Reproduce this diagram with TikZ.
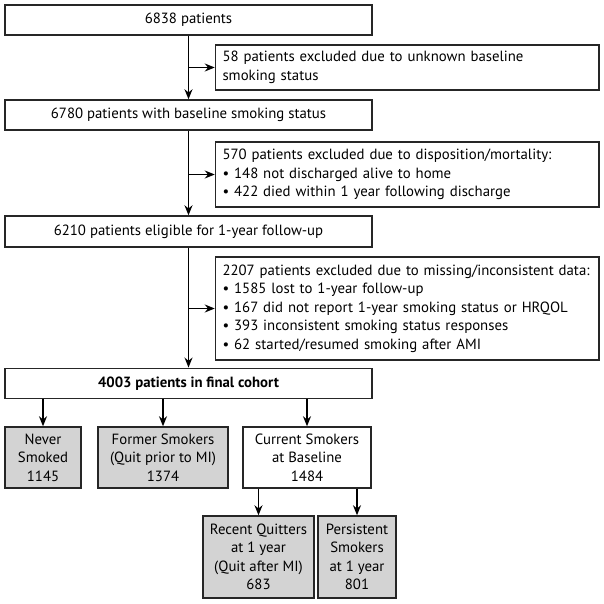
\documentclass[tikz,border=0pt]{standalone}
\usepackage{fontspec}
\setmainfont{PT Sans}
\usetikzlibrary{arrows.meta}
\definecolor{boxgray}{RGB}{211,211,211}
\tikzstyle{arrow} = [line width=1.4pt,-{Stealth[length=10pt,width=8pt]}]
\tikzstyle{box} = [draw=black!85, line width=1.5pt, inner sep=0pt, align=center, font=\fontsize{14.8}{18.4}\selectfont]
\tikzstyle{mainbox} = [box, minimum width=367pt]
\tikzstyle{exclbox} = [box, align=left, text width=369.5pt, inner xsep=7pt]
\tikzstyle{groupbox} = [box, fill=boxgray]

\begin{document}
\begin{tikzpicture}[x=1pt, y=-1pt]
    \useasboundingbox (0,0) rectangle (604,604);
    % Nodes
    \node[mainbox, minimum height=30pt] (A) at (188.5,20) {6838 patients};
    \node[exclbox, minimum height=45pt] (E1) at (407.25,67.5) {58 patients excluded due to unknown baseline\\smoking status};
    \node[mainbox, minimum height=30pt] (B) at (188.5,115) {6780 patients with baseline smoking status};
    \node[exclbox, minimum height=65pt] (E2) at (407.25,174.5) {570 patients excluded due to disposition/mortality:\\\textbullet\ 148 not discharged alive to home\\\textbullet\ 422 died within 1 year following discharge};
    \node[mainbox, minimum height=31pt] (C) at (188.5,231.5) {6210 patients eligible for 1-year follow-up};
    \node[exclbox, minimum height=103pt] (E3) at (407.25,308.5) {2207 patients excluded due to missing/inconsistent data:\\\textbullet\ 1585 lost to 1-year follow-up\\\textbullet\ 167 did not report 1-year smoking status or HRQOL\\\textbullet\ 393 inconsistent smoking status responses\\\textbullet\ 62 started/resumed smoking after AMI};
    \node[mainbox, minimum height=30pt] (D) at (188.5,383.3) {\bfseries 4003 patients in final cohort};
    \node[groupbox, minimum width=76pt, minimum height=61pt] (F) at (43,457.5) {Never\\Smoked\\1145};
    \node[groupbox, minimum width=130pt, minimum height=61pt] (G) at (163,457.5) {Former Smokers\\(Quit prior to MI)\\1374};
    \node[box, minimum width=128pt, minimum height=61pt] (H) at (307,457.5) {Current Smokers\\at Baseline\\1484};
    \node[groupbox, minimum width=111pt, minimum height=82pt] (I) at (258.5,557) {Recent Quitters\\at 1 year\\(Quit after MI)\\683};
    \node[groupbox, minimum width=78pt, minimum height=82pt] (J) at (357,557) {Persistent\\Smokers\\at 1 year\\801};

    % Edges
    \draw[arrow] (A) -- (B);
    \draw[arrow] (A.south |- E1.west) -- (E1.west);
    \draw[arrow] (B) -- (C);
    \draw[arrow] (B.south |- E2.west) -- (E2.west);
    \draw[arrow] (C) -- (D);
    \draw[arrow] (C.south |- E3.west) -- (E3.west);
    \draw[arrow] (F.north |- D.south) -- (F);
    \draw[arrow] (G.north |- D.south) -- (G);
    \draw[arrow] (H.north |- D.south) -- (H);
    \draw[arrow] (I.north |- H.south) -- (I);
    \draw[arrow] (J.north |- H.south) -- (J);
\end{tikzpicture}
\end{document}
